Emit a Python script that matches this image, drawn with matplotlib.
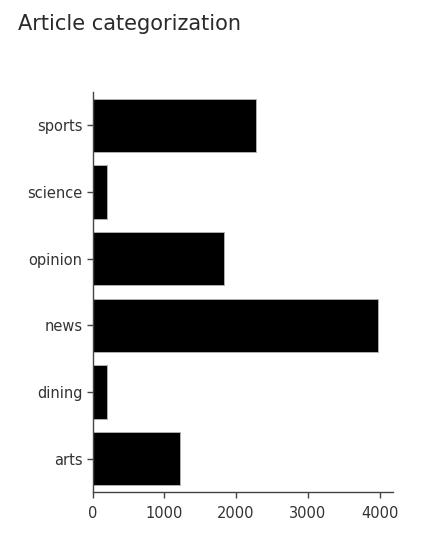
import numpy as np
from matplotlib import pyplot as plt

categories = ['arts', 'dining', 'news', 'opinion', 'science', 'sports']
counts = [1220, 200, 3975, 1835, 200, 2282]
xticks = [0, 1000, 2000, 3000, 4000]

plt.rcParams['font.family'] = 'DejaVu Sans'

fig = plt.figure(figsize=(4.21, 5.41), dpi=100)
ax = fig.add_axes([0.2202, 0.0906, 0.7126, 0.7394])

y = np.arange(len(categories))
ax.barh(y, counts, height=0.8, color='black', edgecolor='#b0b0b0', linewidth=0.7)

ax.set_ylim(-0.5, len(categories) - 0.5)
ax.set_xlim(0, 4184)
ax.set_yticks(y)
ax.set_yticklabels(categories)
ax.set_xticks(xticks)
ax.set_xticklabels([str(t) for t in xticks])

for side in ['top', 'right']:
    ax.spines[side].set_visible(False)
for side in ['left', 'bottom']:
    ax.spines[side].set_color('#444444')
    ax.spines[side].set_linewidth(1)

ax.tick_params(axis='y', length=4.5, width=1, color='#444444', pad=3,
               labelsize=10.5, labelcolor='#333333')
ax.tick_params(axis='x', length=4, width=1, color='#444444', pad=6,
               labelsize=10.5, labelcolor='#333333')

fig.text(18 / 421, 1 - 30 / 541, 'Article categorization', fontsize=15,
         color='#2a2a2a', ha='left', va='baseline')

fig.savefig('out.png', dpi=100)
